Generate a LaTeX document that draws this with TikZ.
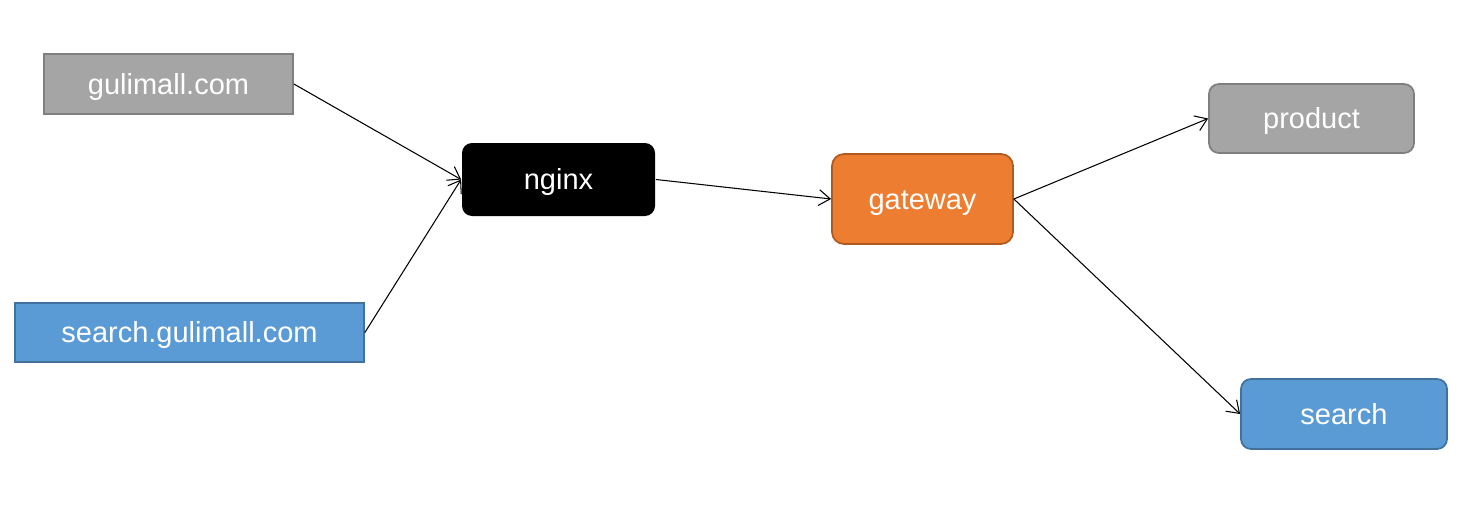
\documentclass[tikz,border=0pt]{standalone}
\usepackage{fontspec}
\setmainfont{Liberation Sans}
\usetikzlibrary{arrows.meta}

\definecolor{boxgray}{HTML}{A5A5A5}
\definecolor{boxgrayline}{HTML}{7F7F7F}
\definecolor{boxblue}{HTML}{5B9BD5}
\definecolor{boxblueline}{HTML}{41719C}
\definecolor{boxorange}{HTML}{ED7D31}
\definecolor{boxorangeline}{HTML}{AE5A21}

\begin{document}
\begin{tikzpicture}
        [->,>={Straight Barb[length=6.5pt,width=9pt]},line width=0.6pt,
         every node/.style={text=white,inner sep=0pt,line width=1pt,
           text height=0.6cm,text depth=0.2cm,
           font=\fontsize{16.5}{20}\selectfont},
         graybox/.style={fill=boxgray,draw=boxgrayline},
         bluebox/.style={fill=boxblue,draw=boxblueline}]
        \useasboundingbox (0,0) rectangle (29.46,10.12);
        \node[graybox,minimum width=4.98cm,minimum height=1.2cm] (site) at (3.37,8.44) {gulimall.com};
        \node[bluebox,minimum width=6.98cm,minimum height=1.18cm] (searchsite) at (3.79,3.47) {search.gulimall.com};
        \node[fill=black,rounded corners=0.2cm,minimum width=3.86cm,minimum height=1.46cm] (nginx) at (11.17,6.53) {nginx};
        \node[fill=boxorange,draw=boxorangeline,rounded corners=0.24cm,minimum width=3.62cm,minimum height=1.8cm] (gateway) at (18.45,6.14) {gateway};
        \node[graybox,rounded corners=0.2cm,minimum width=4.1cm,minimum height=1.38cm] (product) at (26.23,7.75) {product};
        \node[bluebox,rounded corners=0.2cm,minimum width=4.12cm,minimum height=1.4cm] (search) at (26.88,1.84) {search};

        \foreach \from/\to in {site/nginx,searchsite/nginx,nginx/gateway,gateway/product,gateway/search}
        \draw (\from.east) -- (\to.west);
      \end{tikzpicture}
\end{document}
